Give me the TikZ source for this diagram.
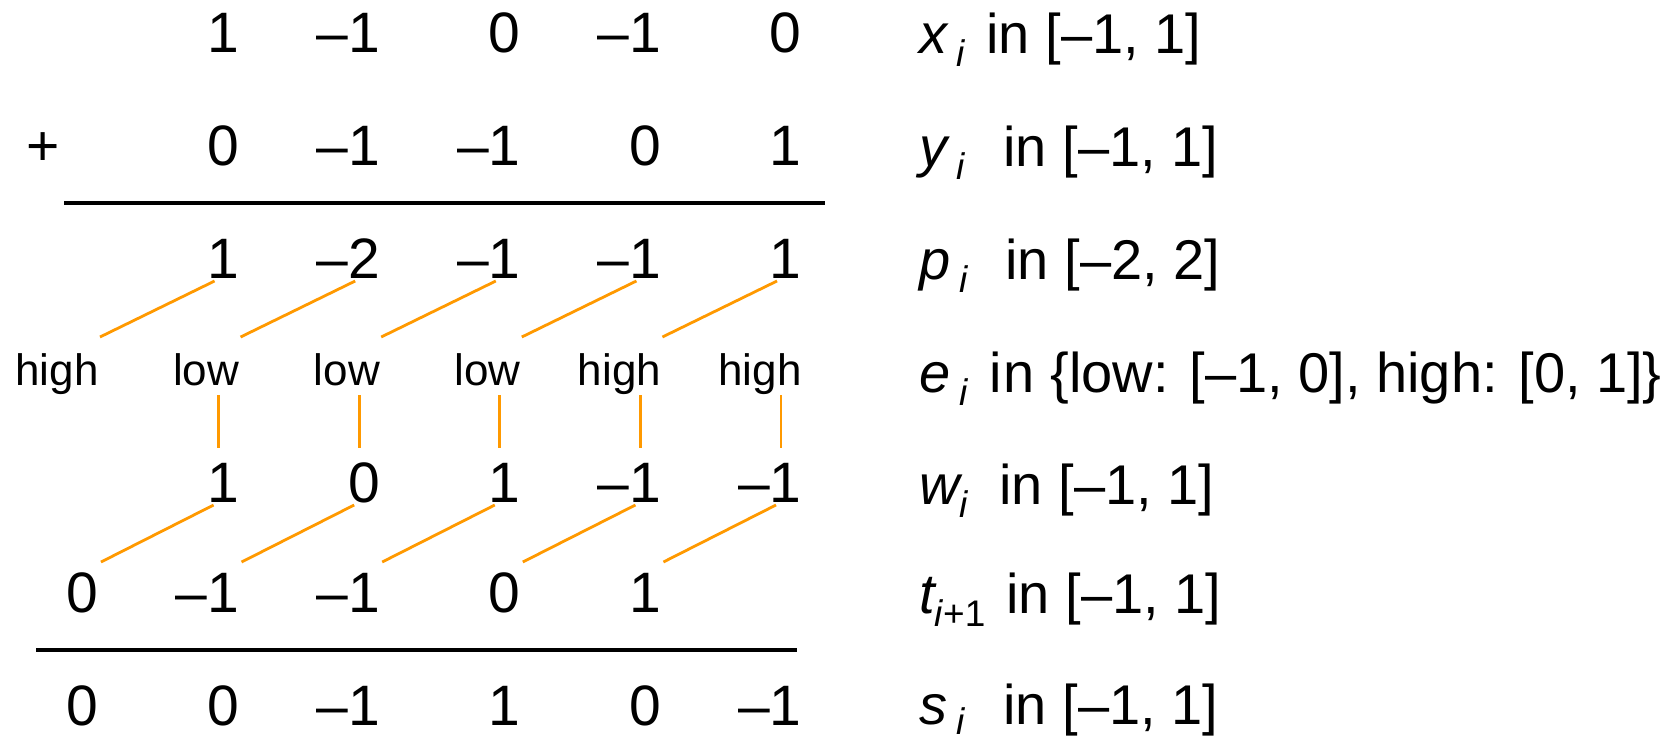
\documentclass[tikz,border=0pt]{standalone}
\usepackage{fontspec}
\setmainfont{Liberation Sans}
\usetikzlibrary{arrows.meta,calc,positioning}
\definecolor{linkorange}{RGB}{255,153,0}
\newcommand\idx[2][6.5pt]{\raisebox{-#1}{\fontsize{18.5}{18.5}\selectfont #2}}
\begin{document}
\begin{tikzpicture}[x=0.5pt,y=-0.5pt,
  num/.style={inner sep=0pt,anchor=base east,font=\fontsize{28.5}{30}\selectfont},
  tag/.style={inner sep=0pt,anchor=base east,font=\fontsize{22}{24}\selectfont},
  lbl/.style={inner sep=0pt,anchor=base west,font=\fontsize{28}{30}\selectfont},
  link/.style={draw=linkorange,line width=1.4pt},
  rule/.style={line width=1.6pt}]
\useasboundingbox (0,0) rectangle (1673,739);
% digits, right aligned on the columns
\foreach \v [count=\k] in {1,–1,0,–1,0} \node[num] (x\k) at ({99+140.6*\k},52) {\v};
\foreach \v [count=\k] in {0,–1,–1,0,1} \node[num] (y\k) at ({99+140.6*\k},165) {\v};
\foreach \v [count=\k] in {1,–2,–1,–1,1} \node[num] (p\k) at ({99+140.6*\k},278) {\v};
\foreach \v [count=\k from 0] in {high,low,low,low,high,high} \node[tag] (e\k) at ({99+140.6*\k},385) {\v};
\foreach \v [count=\k] in {1,0,1,–1,–1} \node[num] (w\k) at ({99+140.6*\k},502) {\v};
\foreach \v [count=\k from 0] in {0,–1,–1,0,1} \node[num] (t\k) at ({99+140.6*\k},612) {\v};
\foreach \v [count=\k from 0] in {0,0,–1,1,0,–1} \node[num] (s\k) at ({99+140.6*\k},725) {\v};
\node[num,anchor=base] (plus) at (43,165) {+};
\draw[rule] (64,203) -- (825,203);
\draw[rule] (36,650) -- (797,650);
% orange links
\foreach \k [evaluate=\k as \j using int(\k-1)] in {1,...,5} {
 \draw[link] ([shift={(-25,3)}]p\k.base east) -- ([shift={(1,-48)}]e\j.base east);
 \draw[link] ([shift={(-21,10)}]e\k.base east) -- ([shift={(-21,-54)}]w\k.base east);
 \draw[link] ([shift={(-26,3)}]w\k.base east) -- ([shift={(2,-50)}]t\j.base east);
}
% ranges
\node[lbl] (rx) at (919,53) {\makebox[33.5pt][l]{\itshape x\,\idx{i}}in [–1, 1]};
\node[lbl] (ry) at (919,166) {\makebox[42pt][l]{\itshape y\,\idx{i}}in [–1, 1]};
\node[lbl] (rp) at (919,279) {\makebox[43pt][l]{\itshape p\,\idx{i}}in [–2, 2]};
\node[lbl] (re) at (919,392) {\makebox[35pt][l]{\itshape e\,\idx{i}}i\kern1pt n \{low: [–1, 0], high: [0, 1]\}};
\node[lbl] (rw) at (919,504) {\makebox[40pt][l]{\itshape w\idx{i}}in [–1, 1]};
\node[lbl] (rt) at (919,613) {\makebox[43.5pt][l]{\itshape t\idx{i\upshape+1}}in [–1, 1]};
\node[lbl] (rs) at (919,724) {\makebox[42pt][l]{\itshape s\,\idx[5pt]{i}}in [–1, 1]};
\end{tikzpicture}
\end{document}
